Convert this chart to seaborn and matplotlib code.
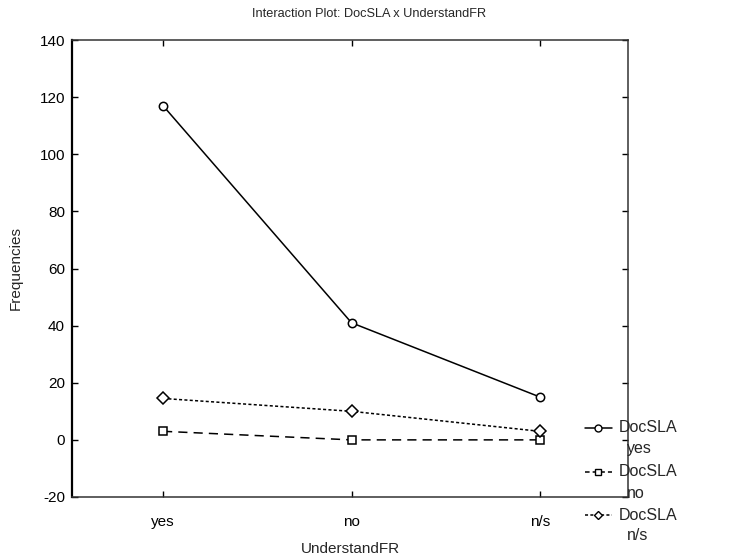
import matplotlib
matplotlib.use("Agg")
import matplotlib.pyplot as plt
import seaborn as sns
import pandas as pd
from matplotlib.lines import Line2D

categories = ["yes", "no", "n/s"]
docsla_levels = ["yes", "no", "n/s"]
freq_yes = [117, 41, 15]
freq_no = [3, 0, 0]
freq_ns = [14.5, 10, 3]
yticks = [-20, 0, 20, 40, 60, 80, 100, 120, 140]

rows = []
for lvl, vals in zip(docsla_levels, [freq_yes, freq_no, freq_ns]):
    for c, v in zip(categories, vals):
        rows.append({"UnderstandFR": c, "Frequencies": v, "DocSLA": lvl})
df = pd.DataFrame(rows)

sns.set_theme(style="ticks")
plt.rcParams["font.family"] = ["Liberation Sans", "DejaVu Sans"]
plt.rcParams["axes.unicode_minus"] = False

fig = plt.figure(figsize=(7.39, 5.57), dpi=100)
W, H = 739, 557
ax = fig.add_axes([72/W, 1-497/H, (628-72)/W, (497-40)/H])

marker_map = {"yes": "o", "no": "s", "n/s": "D"}
dash_map = {"yes": "", "no": (6, 4), "n/s": (2, 1.5)}
sns.lineplot(data=df, x="UnderstandFR", y="Frequencies", hue="DocSLA", style="DocSLA",
             hue_order=docsla_levels, style_order=docsla_levels,
             palette=["black", "black", "black"],
             markers=marker_map, dashes=dash_map,
             markersize=6, markerfacecolor="white", markeredgecolor="black",
             markeredgewidth=1.1, linewidth=1.1, sort=False, ax=ax, legend=False)

ax.set_xlim(-0.483, 2.467)
ax.set_ylim(-20, 140)
ax.set_yticks(yticks)
ax.set_xticks(range(len(categories)))
ax.set_xticklabels(categories)
ax.tick_params(direction="in", length=4, width=1, labelsize=11, colors="black",
               top=True, right=True)
ax.tick_params(axis="y", pad=5)
ax.tick_params(axis="x", pad=13)
for name, s in ax.spines.items():
    s.set_color("black" if name == "left" else "#333333")
    s.set_linewidth(1.6 if name == "left" else 1.1)
ax.set_xlabel("UnderstandFR", fontsize=11, labelpad=9)
ax.set_ylabel("Frequencies", fontsize=11, labelpad=12)
fig.suptitle("Interaction Plot: DocSLA x UnderstandFR", fontsize=9.2, x=0.5, y=0.985)

# legend outside on the right, handle aligned with first text line
entry_y = [428, 472, 515]
legend_dashes = [None, (3, 2), (2, 1.5)]
for lvl, yy, dsh in zip(docsla_levels, entry_y, legend_dashes):
    fy = 1 - yy/H
    ln = Line2D([585/W, 612/W], [fy, fy], transform=fig.transFigure, color="black",
                linewidth=1.1)
    if dsh:
        ln.set_dashes(dsh)
    mk = Line2D([598/W], [fy], transform=fig.transFigure, color="black",
                marker=marker_map[lvl], markersize=5 if lvl != "n/s" else 4,
                markerfacecolor="white", linestyle="none")
    fig.add_artist(ln)
    fig.add_artist(mk)
    fig.text(619/W, fy, "DocSLA", fontsize=11.5, va="center", ha="left")
    fig.text(627/W, 1 - (yy + 21)/H, lvl, fontsize=11.5, va="center", ha="left")

fig.savefig("out.png", dpi=100)
